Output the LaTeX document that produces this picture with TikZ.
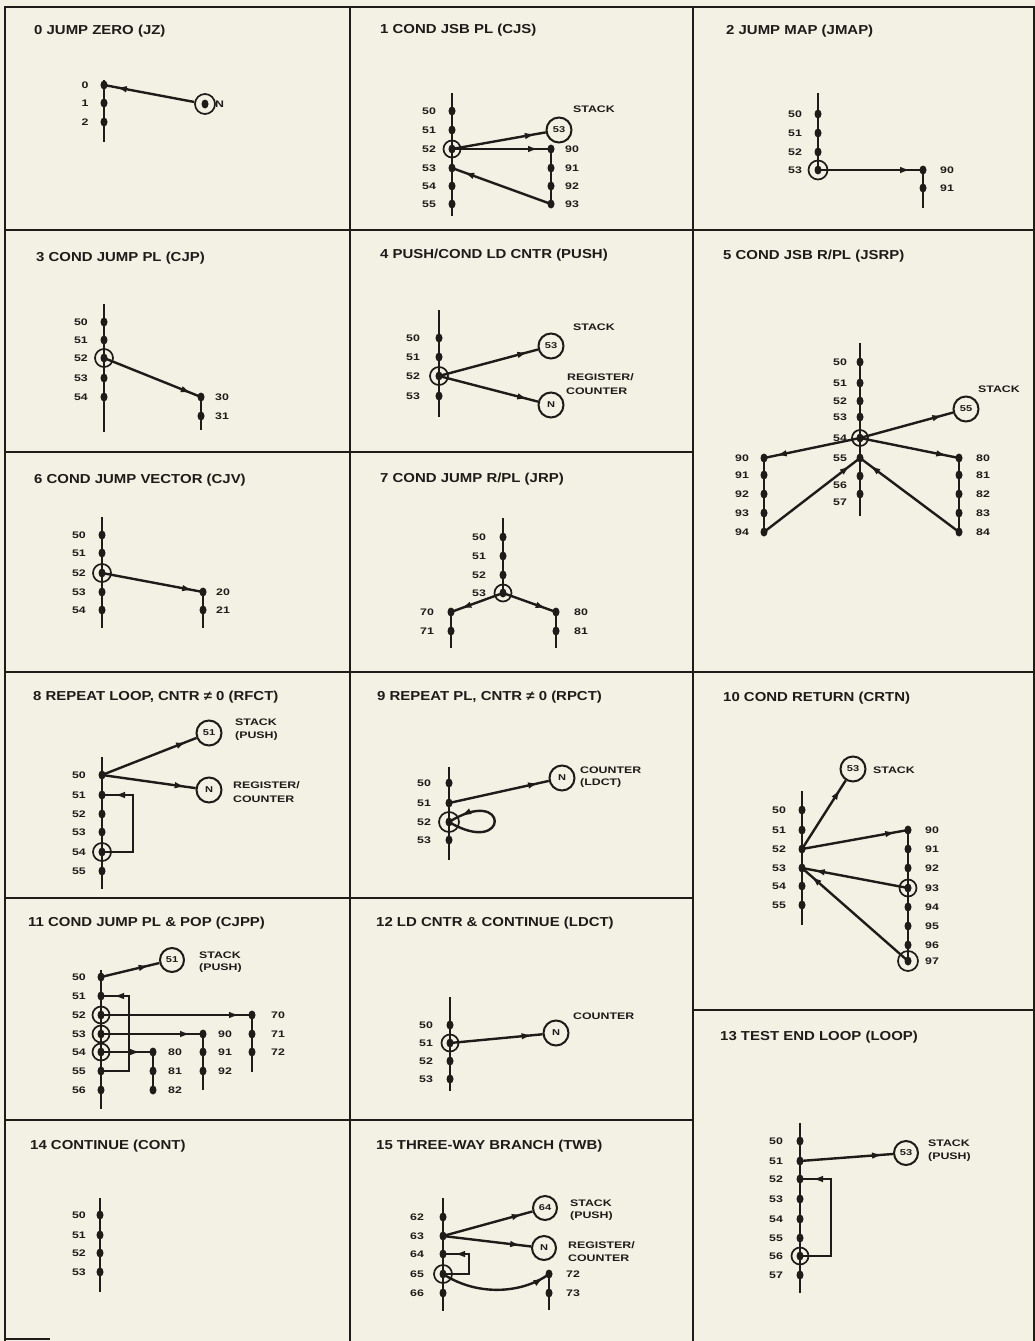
\documentclass[tikz,border=0pt]{standalone}
\usepackage{fontspec}
\usetikzlibrary{arrows.meta,decorations.markings,calc,shapes.geometric}
\newfontfamily\tfont{Liberation Sans}[FakeStretch=1.15]
\newfontfamily\lfont{Liberation Sans}[FakeStretch=1.3]
\definecolor{bg}{RGB}{243,241,228}
\definecolor{ink}{RGB}{30,27,25}
\begin{document}
\begin{tikzpicture}[x=1pt,y=-1pt,
  ln/.style={draw=ink,line width=2.4pt},
  frm/.style={draw=ink,line width=2.6pt},
  sdot/.style={ellipse,fill=ink,inner sep=0pt,minimum width=7pt,minimum height=9pt},
  ring/.style={circle,draw=ink,line width=1.7pt,inner sep=0pt,minimum size=#1},
  ring/.default=17pt,
  big/.style={circle,draw=ink,line width=2pt,inner sep=0pt,minimum size=25pt,text=ink,font=\lfont\bfseries\fontsize{8.5}{8.5}\selectfont},
  lbl/.style={text=ink,inner sep=0pt,font=\lfont\bfseries\fontsize{9.5}{10}\selectfont},
  lblw/.style={lbl,anchor=west},
  ttl/.style={anchor=west,text=ink,inner sep=0pt,font=\tfont\bfseries\fontsize{13}{14}\selectfont},
  marr/.style={postaction={decorate},decoration={markings,mark=at position #1 with {\arrow{Latex[length=11pt,width=6.5pt]}}}},
  marr/.default=-10pt]
\useasboundingbox (0,0) rectangle (1035,1341);
\fill[bg] (0,0) rectangle (1035,1341);
% frame
\draw[frm] (5,1341) -- (5,7) -- (1034,7) -- (1034,1341);
\draw[frm] (5,1339) -- (50,1339);
\draw[frm] (350,7) -- (350,1341);
\draw[frm] (693,7) -- (693,1341);
\draw[frm] (5,230) -- (1034,230);
\draw[frm] (5,452) -- (693,452);
\draw[frm] (5,672) -- (1034,672);
\draw[frm] (5,898) -- (693,898);
\draw[frm] (693,1010) -- (1034,1010);
\draw[frm] (5,1120) -- (693,1120);

% ---------- panel 0
\node[ttl] (t0) at (34,31) {0 JUMP ZERO (JZ)};
\coordinate (p0top) at (104,80); \coordinate (p0bot) at (104,142);
\draw[ln] (p0top) -- (p0bot);
\foreach \i/\yy/\lab in {0/85/0,1/103/1,2/122/2}{\node[sdot] (p0s\i) at (104,\yy) {}; \node[lbl] (p0l\i) at (85,\yy) {\lab};}
\node[ring=20pt] (p0n) at (205,104) {};
\node[sdot] (p0nd) at (205,104) {};
\node[lblw] (p0nl) at (215,104) {N};
\draw[ln,marr=-12pt] (p0n) -- (p0s0.center);

% ---------- panel 1
\node[ttl] (t1) at (380,30) {1 COND JSB PL (CJS)};
\coordinate (p1top) at (452,93); \coordinate (p1bot) at (452,216);
\draw[ln] (p1top) -- (p1bot);
\foreach \i/\yy/\lab in {0/111/50,1/130/51,2/149/52,3/168/53,4/186/54,5/204/55}{\node[sdot] (p1s\i) at (452,\yy) {}; \node[lbl] (p1l\i) at (429,\yy) {\lab};}
\node[ring] (p1ring) at (p1s2) {};
\foreach \i/\yy/\lab in {0/149/90,1/168/91,2/186/92,3/204/93}{\node[sdot] (p1r\i) at (551,\yy) {}; \node[lbl] (p1m\i) at (572,\yy) {\lab};}
\draw[ln] (p1r0.center) -- (p1r3.center);
\node[big] (p1k) at (559,130) {53};
\node[lblw] (p1kl) at (573,109) {STACK};
\draw[ln,marr] (p1s2.center) -- (p1k);
\draw[ln,marr=-12pt] (p1s2.center) -- (p1r0.center);
\draw[ln,marr=-12pt] (p1r3.center) -- (p1s3.center);

% ---------- panel 2
\node[ttl] (t2) at (726,31) {2 JUMP MAP (JMAP)};
\coordinate (p2top) at (818,93);
\foreach \i/\yy/\lab in {0/114/50,1/133/51,2/152/52,3/170/53}{\node[sdot] (p2s\i) at (818,\yy) {}; \node[lbl] (p2l\i) at (795,\yy) {\lab};}
\draw[ln] (p2top) -- (p2s3.center);
\node[ring=19pt] (p2ring) at (p2s3) {};
\foreach \i/\yy/\lab in {0/170/90,1/188/91}{\node[sdot] (p2r\i) at (923,\yy) {}; \node[lbl] (p2m\i) at (947,\yy) {\lab};}
\coordinate (p2rbot) at (923,208);
\draw[ln] (p2r0.center) -- (p2rbot);
\draw[ln,marr=-12pt] (p2s3.center) -- (p2r0.center);

% ---------- panel 3
\node[ttl] (t3) at (36,258) {3 COND JUMP PL (CJP)};
\coordinate (p3top) at (104,304); \coordinate (p3bot) at (104,432);
\draw[ln] (p3top) -- (p3bot);
\foreach \i/\yy/\lab in {0/322/50,1/340/51,2/358/52,3/378/53,4/397/54}{\node[sdot] (p3s\i) at (104,\yy) {}; \node[lbl] (p3l\i) at (81,\yy) {\lab};}
\node[ring=18pt] (p3ring) at (p3s2) {};
\foreach \i/\yy/\lab in {0/397/30,1/416/31}{\node[sdot] (p3r\i) at (201,\yy) {}; \node[lbl] (p3m\i) at (222,\yy) {\lab};}
\coordinate (p3rbot) at (201,430);
\draw[ln] (p3r0.center) -- (p3rbot);
\draw[ln,marr] (p3s2.center) -- (p3r0.center);

% ---------- panel 4
\node[ttl] (t4) at (380,255) {4 PUSH/COND LD CNTR (PUSH)};
\coordinate (p4top) at (439,310); \coordinate (p4bot) at (439,417);
\draw[ln] (p4top) -- (p4bot);
\foreach \i/\yy/\lab in {0/338/50,1/357/51,2/376/52,3/396/53}{\node[sdot] (p4s\i) at (439,\yy) {}; \node[lbl] (p4l\i) at (413,\yy) {\lab};}
\node[ring=18pt] (p4ring) at (p4s2) {};
\node[big] (p4k) at (551,346) {53};
\node[lblw] (p4kl) at (573,327) {STACK};
\node[big] (p4n) at (551,405) {N};
\node[lblw] (p4nl1) at (567,377) {REGISTER/};
\node[lblw] (p4nl2) at (566,391) {COUNTER};
\draw[ln,marr] (p4s2.center) -- (p4k);
\draw[ln,marr] (p4s2.center) -- (p4n);

% ---------- panel 5
\node[ttl] (t5) at (723,256) {5 COND JSB R/PL (JSRP)};
\coordinate (p5top) at (860,343); \coordinate (p5bot) at (860,516);
\draw[ln] (p5top) -- (p5bot);
\foreach \i/\yy/\ly/\lab in {0/362/362/50,1/383/383/51,2/401/401/52,3/417/417/53,4/438/438/54,5/458/458/55,6/476/485/56,7/494/502/57}{\node[sdot] (p5s\i) at (860,\yy) {}; \node[lbl] (p5l\i) at (840,\ly) {\lab};}
\node[ring=16pt] (p5ring) at (p5s4) {};
\node[big] (p5k) at (966,409) {55};
\node[lblw] (p5kl) at (978,389) {STACK};
\foreach \i/\yy/\lab in {0/458/90,1/475/91,2/494/92,3/513/93,4/532/94}{\node[sdot] (p5a\i) at (764,\yy) {}; \node[lbl] (p5m\i) at (742,\yy) {\lab};}
\foreach \i/\yy/\lab in {0/458/80,1/475/81,2/494/82,3/513/83,4/532/84}{\node[sdot] (p5b\i) at (959,\yy) {}; \node[lbl] (p5n\i) at (983,\yy) {\lab};}
\draw[ln] (p5a0.center) -- (p5a4.center);
\draw[ln] (p5b0.center) -- (p5b4.center);
\draw[ln,marr] (p5s4.center) -- (p5k);
\draw[ln,marr=-12pt] (p5s4.center) -- (p5a0.center);
\draw[ln,marr=-12pt] (p5s4.center) -- (p5b0.center);
\draw[ln,marr=-12pt] (p5a4.center) -- (p5s5.center);
\draw[ln,marr=-12pt] (p5b4.center) -- (p5s5.center);

% ---------- panel 6
\node[ttl] (t6) at (34,480) {6 COND JUMP VECTOR (CJV)};
\coordinate (p6top) at (102,517); \coordinate (p6bot) at (102,628);
\draw[ln] (p6top) -- (p6bot);
\foreach \i/\yy/\lab in {0/535/50,1/553/51,2/573/52,3/592/53,4/610/54}{\node[sdot] (p6s\i) at (102,\yy) {}; \node[lbl] (p6l\i) at (79,\yy) {\lab};}
\node[ring=18pt] (p6ring) at (p6s2) {};
\foreach \i/\yy/\lab in {0/592/20,1/610/21}{\node[sdot] (p6r\i) at (203,\yy) {}; \node[lbl] (p6m\i) at (223,\yy) {\lab};}
\coordinate (p6rbot) at (203,628);
\draw[ln] (p6r0.center) -- (p6rbot);
\draw[ln,marr] (p6s2.center) -- (p6r0.center);

% ---------- panel 7
\node[ttl] (t7) at (380,479) {7 COND JUMP R/PL (JRP)};
\coordinate (p7top) at (503,518);
\foreach \i/\yy/\lab in {0/537/50,1/556/51,2/575/52,3/593/53}{\node[sdot] (p7s\i) at (503,\yy) {}; \node[lbl] (p7l\i) at (479,\yy) {\lab};}
\draw[ln] (p7top) -- (p7s3.center);
\node[ring=17pt] (p7ring) at (p7s3) {};
\foreach \i/\yy/\lab in {0/612/70,1/631/71}{\node[sdot] (p7a\i) at (451,\yy) {}; \node[lbl] (p7m\i) at (427,\yy) {\lab};}
\foreach \i/\yy/\lab in {0/612/80,1/631/81}{\node[sdot] (p7b\i) at (556,\yy) {}; \node[lbl] (p7n\i) at (581,\yy) {\lab};}
\coordinate (p7abot) at (451,648); \coordinate (p7bbot) at (556,648);
\draw[ln] (p7a0.center) -- (p7abot);
\draw[ln] (p7b0.center) -- (p7bbot);
\draw[ln,marr] (p7s3.center) -- (p7a0.center);
\draw[ln,marr] (p7s3.center) -- (p7b0.center);

% ---------- panel 8
\node[ttl] (t8) at (33,697) {8 REPEAT LOOP, CNTR ≠ 0 (RFCT)};
\coordinate (p8top) at (102,757); \coordinate (p8bot) at (102,889);
\draw[ln] (p8top) -- (p8bot);
\foreach \i/\yy/\lab in {0/775/50,1/795/51,2/814/52,3/832/53,4/852/54,5/871/55}{\node[sdot] (p8s\i) at (102,\yy) {}; \node[lbl] (p8l\i) at (79,\yy) {\lab};}
\node[ring=18pt] (p8ring) at (p8s4) {};
\node[big] (p8k) at (209,733) {51};
\node[lblw] (p8kl1) at (235,722) {STACK};
\node[lblw] (p8kl2) at (235,736) {(PUSH)};
\node[big] (p8n) at (209,790) {N};
\node[lblw] (p8nl1) at (233,785) {REGISTER/};
\node[lblw] (p8nl2) at (233,799) {COUNTER};
\draw[ln,marr] (p8s0.center) -- (p8k);
\draw[ln,marr] (p8s0.center) -- (p8n);
\coordinate (p8corner) at (133,795);
\draw[ln,marr=-12pt] (p8s4.center) -| (p8corner) -- (p8s1.center);

% ---------- panel 9
\node[ttl] (t9) at (377,697) {9 REPEAT PL, CNTR ≠ 0 (RPCT)};
\coordinate (p9top) at (449,767); \coordinate (p9bot) at (449,860);
\draw[ln] (p9top) -- (p9bot);
\foreach \i/\yy/\lab in {0/783/50,1/803/51,2/822/52,3/840/53}{\node[sdot] (p9s\i) at (449,\yy) {}; \node[lbl] (p9l\i) at (424,\yy) {\lab};}
\node[ring=20pt] (p9ring) at (p9s2) {};
\node[big] (p9n) at (562,778) {N};
\node[lblw] (p9nl1) at (580,770) {COUNTER};
\node[lblw] (p9nl2) at (580,783) {(LDCT)};
\draw[ln,marr] (p9s1.center) -- (p9n);
\draw[ln,marr=-13pt] (p9s2.center) .. controls (510,858) and (510,784) .. (p9s2.center);

% ---------- panel 10
\node[ttl] (t10) at (723,698) {10 COND RETURN (CRTN)};
\coordinate (p10top) at (802,791); \coordinate (p10bot) at (802,925);
\draw[ln] (p10top) -- (p10bot);
\foreach \i/\yy/\lab in {0/810/50,1/830/51,2/849/52,3/868/53,4/886/54,5/905/55}{\node[sdot] (p10s\i) at (802,\yy) {}; \node[lbl] (p10l\i) at (779,\yy) {\lab};}
\foreach \i/\yy/\lab in {0/830/90,1/849/91,2/868/92,3/888/93,4/907/94,5/926/95,6/945/96,7/961/97}{\node[sdot] (p10r\i) at (908,\yy) {}; \node[lbl] (p10m\i) at (932,\yy) {\lab};}
\draw[ln] (p10r0.center) -- (p10r7.center);
\node[ring=17pt] (p10ring3) at (p10r3) {};
\node[ring=20pt] (p10ring7) at (p10r7) {};
\node[big] (p10k) at (853,769) {53};
\node[lblw] (p10kl) at (873,770) {STACK};
\draw[ln,marr] (p10s2.center) -- (p10k);
\draw[ln,marr=-12pt] (p10s2.center) -- (p10r0.center);
\draw[ln,marr=-12pt] (p10r3.center) -- (p10s3.center);
\draw[ln,marr=-12pt] (p10r7.center) -- (p10s3.center);

% ---------- panel 11
\node[ttl] (t11) at (28,923) {11 COND JUMP PL \& POP (CJPP)};
\coordinate (p11top) at (101,970); \coordinate (p11bot) at (101,1109);
\draw[ln] (p11top) -- (p11bot);
\foreach \i/\yy/\lab in {0/977/50,1/996/51,2/1015/52,3/1034/53,4/1052/54,5/1071/55,6/1090/56}{\node[sdot] (p11s\i) at (101,\yy) {}; \node[lbl] (p11l\i) at (79,\yy) {\lab};}
\node[ring] (p11ring2) at (p11s2) {};
\node[ring] (p11ring3) at (p11s3) {};
\node[ring] (p11ring4) at (p11s4) {};
\node[big,minimum size=24pt] (p11k) at (172,960) {51};
\node[lblw] (p11kl1) at (199,955) {STACK};
\node[lblw] (p11kl2) at (199,968) {(PUSH)};
\draw[ln,marr] (p11s0.center) -- (p11k);
\coordinate (p11corner) at (129,996);
\draw[ln,marr=-12pt] (p11s5.center) -| (p11corner) -- (p11s1.center);
\foreach \i/\yy/\lab in {0/1015/70,1/1034/71,2/1052/72}{\node[sdot] (p11a\i) at (252,\yy) {}; \node[lbl] (p11m\i) at (278,\yy) {\lab};}
\foreach \i/\yy/\lab in {0/1034/90,1/1052/91,2/1071/92}{\node[sdot] (p11b\i) at (203,\yy) {}; \node[lbl] (p11n\i) at (225,\yy) {\lab};}
\foreach \i/\yy/\lab in {0/1052/80,1/1071/81,2/1090/82}{\node[sdot] (p11c\i) at (153,\yy) {}; \node[lbl] (p11o\i) at (175,\yy) {\lab};}
\coordinate (p11abot) at (252,1072); \coordinate (p11bbot) at (203,1090);
\draw[ln] (p11a0.center) -- (p11abot);
\draw[ln] (p11b0.center) -- (p11bbot);
\draw[ln] (p11c0.center) -- (p11c2.center);
\draw[ln,marr=-12pt] (p11s2.center) -- (p11a0.center);
\draw[ln,marr=-12pt] (p11s3.center) -- (p11b0.center);
\draw[ln,marr=-12pt] (p11s4.center) -- (p11c0.center);

% ---------- panel 12
\node[ttl] (t12) at (376,923) {12 LD CNTR \& CONTINUE (LDCT)};
\coordinate (p12top) at (450,997); \coordinate (p12bot) at (450,1091);
\draw[ln] (p12top) -- (p12bot);
\foreach \i/\yy/\lab in {0/1025/50,1/1043/51,2/1061/52,3/1079/53}{\node[sdot] (p12s\i) at (450,\yy) {}; \node[lbl] (p12l\i) at (426,\yy) {\lab};}
\node[ring=17pt] (p12ring) at (p12s1) {};
\node[big] (p12n) at (556,1033) {N};
\node[lblw] (p12nl) at (573,1016) {COUNTER};
\draw[ln,marr] (p12s1.center) -- (p12n);

% ---------- panel 13
\node[ttl] (t13) at (720,1037) {13 TEST END LOOP (LOOP)};
\coordinate (p13top) at (800,1123); \coordinate (p13bot) at (800,1293);
\draw[ln] (p13top) -- (p13bot);
\foreach \i/\yy/\lab in {0/1141/50,1/1161/51,2/1179/52,3/1199/53,4/1219/54,5/1238/55,6/1256/56,7/1275/57}{\node[sdot] (p13s\i) at (800,\yy) {}; \node[lbl] (p13l\i) at (776,\yy) {\lab};}
\node[ring=17pt] (p13ring) at (p13s6) {};
\node[big,minimum size=24pt] (p13k) at (906,1153) {53};
\node[lblw] (p13kl1) at (928,1143) {STACK};
\node[lblw] (p13kl2) at (928,1157) {(PUSH)};
\draw[ln,marr] (p13s1.center) -- (p13k);
\coordinate (p13corner) at (831,1179);
\draw[ln,marr=-12pt] (p13s6.center) -| (p13corner) -- (p13s2.center);

% ---------- panel 14
\node[ttl] (t14) at (30,1146) {14 CONTINUE (CONT)};
\coordinate (p14top) at (100,1198); \coordinate (p14bot) at (100,1292);
\draw[ln] (p14top) -- (p14bot);
\foreach \i/\yy/\lab in {0/1215/50,1/1235/51,2/1253/52,3/1272/53}{\node[sdot] (p14s\i) at (100,\yy) {}; \node[lbl] (p14l\i) at (79,\yy) {\lab};}

% ---------- panel 15
\node[ttl] (t15) at (376,1146) {15 THREE-WAY BRANCH (TWB)};
\coordinate (p15top) at (443,1198); \coordinate (p15bot) at (443,1311);
\draw[ln] (p15top) -- (p15bot);
\foreach \i/\yy/\lab in {0/1217/62,1/1236/63,2/1254/64,3/1274/65,4/1293/66}{\node[sdot] (p15s\i) at (443,\yy) {}; \node[lbl] (p15l\i) at (417,\yy) {\lab};}
\node[ring=18pt] (p15ring) at (p15s3) {};
\node[big,minimum size=24pt] (p15k) at (545,1208) {64};
\node[lblw] (p15kl1) at (570,1203) {STACK};
\node[lblw] (p15kl2) at (570,1216) {(PUSH)};
\node[big,minimum size=24pt] (p15n) at (544,1248) {N};
\node[lblw] (p15nl1) at (568,1245) {REGISTER/};
\node[lblw] (p15nl2) at (568,1258) {COUNTER};
\draw[ln,marr] (p15s1.center) -- (p15k);
\draw[ln,marr] (p15s1.center) -- (p15n);
\coordinate (p15corner) at (469,1254);
\draw[ln,marr=-11pt] (p15s3.center) -| (p15corner) -- (p15s2.center);
\foreach \i/\yy/\lab in {0/1274/72,1/1293/73}{\node[sdot] (p15r\i) at (549,\yy) {}; \node[lbl] (p15m\i) at (573,\yy) {\lab};}
\coordinate (p15rbot) at (549,1310);
\draw[ln] (p15r0.center) -- (p15rbot);
\draw[ln,marr=-6pt] (p15s3.center) .. controls (480,1298) and (525,1292) .. (p15r0.center);
\end{tikzpicture}
\end{document}
